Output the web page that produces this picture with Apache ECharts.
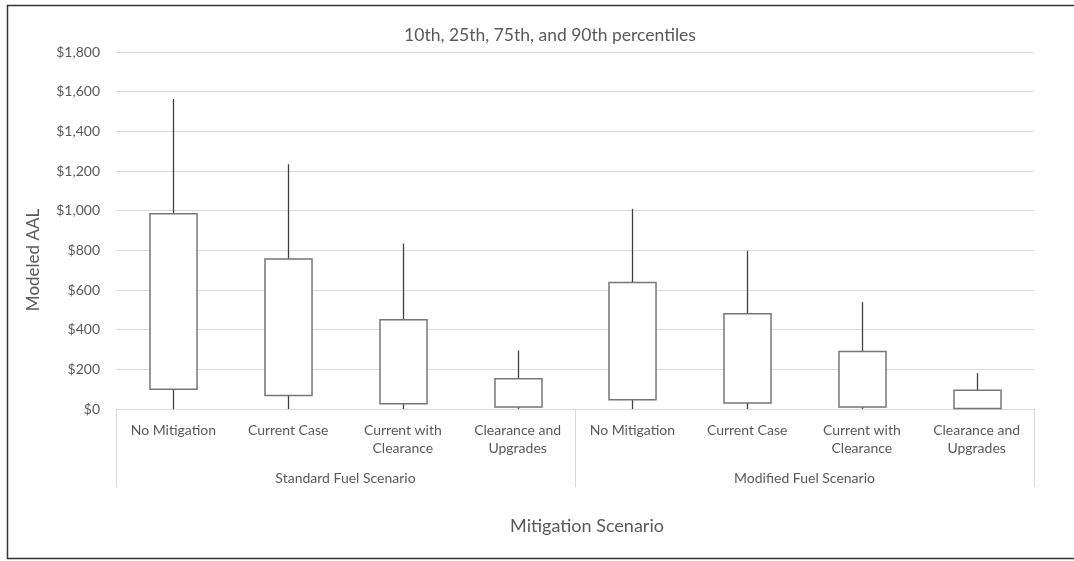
<!DOCTYPE html>
<html>
<head>
<meta charset="utf-8">
<script src="https://cdn.jsdelivr.net/npm/echarts@6/dist/echarts.min.js"></script>
<style>html,body{margin:0;padding:0;background:#fff;}#c{width:1074px;height:561px;}</style>
</head>
<body>
<div id="c"></div>
<script>
var categories = ['No Mitigation', 'Current Case', 'Current with\nClearance', 'Clearance and\nUpgrades',
                  'No Mitigation', 'Current Case', 'Current with\nClearance', 'Clearance and\nUpgrades'];
var groups = ['Standard Fuel Scenario', 'Modified Fuel Scenario'];
var p10 = [0, 0, 0, 0, 0, 0, 0, 0];
var p25 = [99, 68, 27, 10, 47, 30, 10, 3];
var p75 = [985, 756, 450, 153, 638, 480, 290, 94];
var p90 = [1563, 1234, 834, 295, 1009, 797, 539, 181];
var yTicks = { min: 0, max: 1800, interval: 200 };

var FONT = 'Lato';
var TXT = '#595959';
var data = categories.map(function (c, i) { return [i, p10[i], p25[i], p75[i], p90[i]]; });

var chart = echarts.init(document.getElementById('c'), null, { renderer: 'canvas' });
chart.setOption({
  animation: false,
  backgroundColor: '#fff',
  grid: { left: 116, right: 40, top: 52, bottom: 152 },
  xAxis: [{
    type: 'category', data: categories, position: 'bottom',
    axisLine: { lineStyle: { color: '#d9d9d9', width: 1 } },
    axisTick: { show: false },
    axisLabel: { interval: 0, margin: 12, lineHeight: 18, fontFamily: FONT, fontSize: 14, color: TXT }
  }, {
    type: 'category', data: groups, position: 'bottom',
    axisLine: { show: false },
    axisTick: { show: true, length: 78, lineStyle: { color: '#d9d9d9', width: 1 } },
    axisLabel: { margin: 60, lineHeight: 18, fontFamily: FONT, fontSize: 14, color: TXT }
  }],
  yAxis: {
    type: 'value', min: yTicks.min, max: yTicks.max, interval: yTicks.interval,
    axisLine: { show: false }, axisTick: { show: false },
    splitLine: { lineStyle: { color: '#d9d9d9', width: 1 } },
    axisLabel: {
      margin: 16, fontFamily: FONT, fontSize: 14, color: TXT,
      formatter: function (v) { return '$' + v.toLocaleString('en-US'); }
    }
  },
  graphic: [
    { type: 'text', x: 550, y: 35,
      style: { text: '10th, 25th, 75th, and 90th percentiles', fontFamily: FONT, fontSize: 17.5, fill: TXT, align: 'center', verticalAlign: 'middle' } },
    { type: 'text', x: 587, y: 526,
      style: { text: 'Mitigation Scenario', fontFamily: FONT, fontSize: 18, fill: TXT, align: 'center', verticalAlign: 'middle' } },
    { type: 'text', x: 34, y: 260, rotation: Math.PI / 2,
      style: { text: 'Modeled AAL', fontFamily: FONT, fontSize: 17, fill: TXT, align: 'center', verticalAlign: 'middle' } },
    { type: 'rect', shape: { x: 7.5, y: 5.5, width: 1080, height: 553 },
      style: { fill: 'none', stroke: '#333', lineWidth: 1.5 }, silent: true }
  ],
  series: [{
    type: 'custom',
    data: data,
    encode: { x: 0, y: [1, 2, 3, 4] },
    renderItem: function (params, api) {
      var x = api.value(0);
      var a = api.coord([x, api.value(1)]);
      var b = api.coord([x, api.value(2)]);
      var c = api.coord([x, api.value(3)]);
      var d = api.coord([x, api.value(4)]);
      var w = api.size([1, 0])[0] * 0.41;
      var cx = Math.round(a[0]) + 0.5;
      return {
        type: 'group', children: [
          { type: 'line', shape: { x1: cx, y1: a[1], x2: cx, y2: d[1] }, style: { stroke: '#404040', lineWidth: 1.3 } },
          { type: 'rect', shape: { x: cx - w / 2, y: c[1], width: w, height: b[1] - c[1] },
            style: { fill: '#fff', stroke: '#767676', lineWidth: 1.5 } }
        ]
      };
    }
  }]
});
</script>
</body>
</html>
